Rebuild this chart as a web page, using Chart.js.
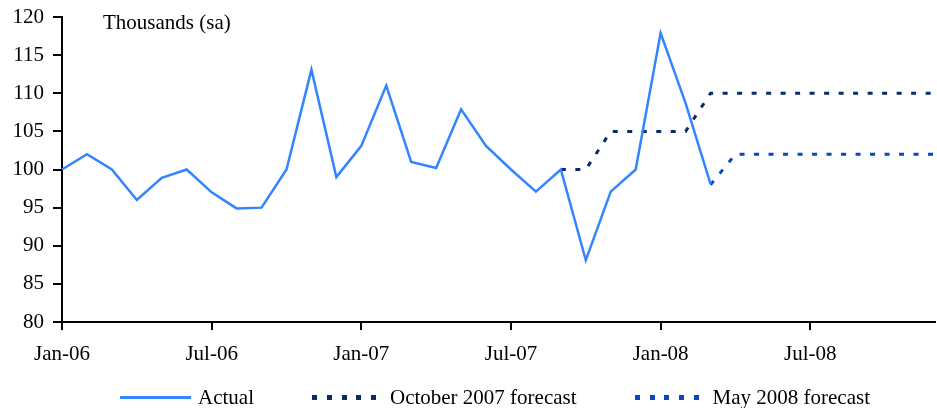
<!DOCTYPE html>
<html>
<head>
<meta charset="utf-8">
<script src="https://cdn.jsdelivr.net/npm/chart.js@4.4.0/dist/chart.umd.min.js"></script>
<style>
  html, body { margin: 0; padding: 0; background: #fff; overflow: hidden; }
  #wrap { position: relative; width: 937px; height: 408px; }
  #legend {
    position: absolute; left: 53px; top: 385px; width: 884px;
    display: flex; justify-content: center; align-items: center;
    font: 21px "Liberation Serif", serif; color: #000;
    line-height: 24px;
  }
  .item { display: flex; align-items: center; margin: 0 29px; }
  .swatch { width: 71px; margin-right: 7px; }
</style>
</head>
<body>
<div id="wrap">
  <canvas id="chart" width="937" height="408"></canvas>
  <div id="legend"></div>
</div>
<script>
// ===== data =====
const months = [
  'Jan-06', 'Feb-06', 'Mar-06', 'Apr-06', 'May-06', 'Jun-06', 'Jul-06', 'Aug-06', 'Sep-06', 'Oct-06', 'Nov-06', 'Dec-06',
  'Jan-07', 'Feb-07', 'Mar-07', 'Apr-07', 'May-07', 'Jun-07', 'Jul-07', 'Aug-07', 'Sep-07', 'Oct-07', 'Nov-07', 'Dec-07',
  'Jan-08', 'Feb-08', 'Mar-08', 'Apr-08', 'May-08', 'Jun-08', 'Jul-08', 'Aug-08', 'Sep-08', 'Oct-08', 'Nov-08', 'Dec-08'
];

const actual = [
  100, 102, 100, 96, 98.9, 100, 97, 94.9, 95, 100, 113.1, 99,
  103.1, 111, 101, 100.2, 107.9, 103.1, 100, 97.1, 100, 88.1, 97.1, 100,
  117.9, 108.7, 98.1, null, null, null, null, null, null, null, null, null
];

const octForecast = [
  null, null, null, null, null, null, null, null, null, null, null, null,
  null, null, null, null, null, null, null, null, 100, 100, 105, 105,
  105, 105, 110, 110, 110, 110, 110, 110, 110, 110, 110, 110
];

const mayForecast = [
  null, null, null, null, null, null, null, null, null, null, null, null,
  null, null, null, null, null, null, null, null, null, null, null, null,
  null, null, 98, 102, 102, 102, 102, 102, 102, 102, 102, 102
];

const seriesNames = ['Actual', 'October 2007 forecast', 'May 2008 forecast'];
const unitLabel = 'Thousands (sa)';

const colors = {
  actual: '#3385ff',
  oct: '#0b2a6a',
  may: '#0a47c2',
  axis: '#000000',
};

Chart.defaults.font.family = '"Liberation Serif", serif';
Chart.defaults.font.size = 21;
Chart.defaults.color = '#000';

const unitText = {
  id: 'unitText',
  afterDraw(chart) {
    const c = chart.ctx;
    c.save();
    c.font = '21px "Liberation Serif", serif';
    c.fillStyle = '#000';
    c.textBaseline = 'alphabetic';
    c.textAlign = 'left';
    c.fillText(unitLabel, 103, 29);
    c.restore();
  }
};

const htmlLegend = {
  id: 'htmlLegend',
  afterUpdate(chart) {
    const box = document.getElementById('legend');
    box.innerHTML = '';
    chart.data.datasets.forEach(ds => {
      const item = document.createElement('div');
      item.className = 'item';
      const sw = document.createElement('span');
      sw.className = 'swatch';
      if (ds.borderDash && ds.borderDash.length) {
        sw.style.height = '5px';
        sw.style.background = `repeating-linear-gradient(90deg, ${ds.borderColor} 0 5px, transparent 5px 14.75px)`;
      } else {
        sw.style.height = '3px';
        sw.style.background = ds.borderColor;
      }
      const txt = document.createElement('span');
      txt.textContent = ds.label;
      item.appendChild(sw);
      item.appendChild(txt);
      box.appendChild(item);
    });
  }
};

const axisGrid = (len) => ({
  display: true,
  drawOnChartArea: false,
  drawTicks: true,
  tickLength: len,
  color: colors.axis,
  lineWidth: 2,
});

new Chart(document.getElementById('chart'), {
  type: 'line',
  data: {
    labels: months,
    datasets: [
      {
        label: seriesNames[0],
        data: actual,
        borderColor: colors.actual,
        borderWidth: 2.5,
        pointRadius: 0,
        tension: 0,
      },
      {
        label: seriesNames[1],
        data: octForecast,
        borderColor: colors.oct,
        borderWidth: 3,
        borderDash: [5, 9.5],
        borderCapStyle: 'butt',
        pointRadius: 0,
        tension: 0,
      },
      {
        label: seriesNames[2],
        data: mayForecast,
        borderColor: colors.may,
        borderWidth: 3,
        borderDash: [5, 9.5],
        borderCapStyle: 'butt',
        pointRadius: 0,
        tension: 0,
      },
    ]
  },
  options: {
    responsive: false,
    animation: false,
    layout: { padding: { top: 17, right: 2, left: 0, bottom: 0 } },
    plugins: {
      legend: { display: false },
      tooltip: { enabled: false },
    },
    scales: {
      x: {
        type: 'category',
        offset: false,
        grid: axisGrid(8),
        border: { display: true, color: colors.axis, width: 2 },
        ticks: { autoSkip: false, maxRotation: 0, padding: 12 },
        afterBuildTicks: (axis) => {
          axis.ticks = axis.ticks.filter(t => t.value % 6 === 0);
        },
        afterFit: (axis) => { axis.height = 86; },
      },
      y: {
        min: 80,
        max: 120,
        grid: axisGrid(9),
        border: { display: true, color: colors.axis, width: 2 },
        ticks: { stepSize: 5, padding: 9, font: { lineHeight: 0.7 } },
        afterFit: (axis) => { axis.width = 62; },
      }
    }
  },
  plugins: [unitText, htmlLegend]
});
</script>
</body>
</html>
